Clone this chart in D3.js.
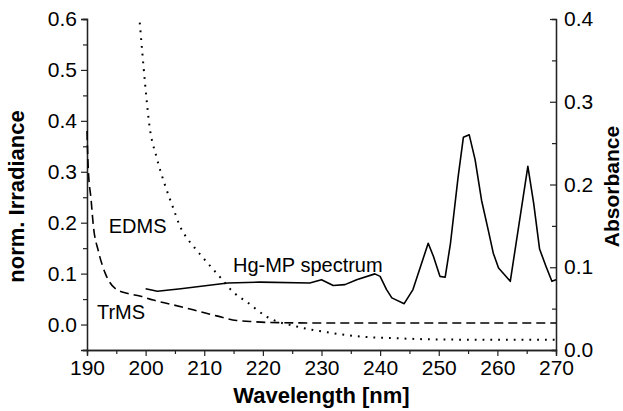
<!DOCTYPE html>
<head>
  <meta charset="utf-8">
  <script src="https://d3js.org/d3.v7.min.js"></script>
  <style>
    body { margin: 0; background: #fff; }
    text { font-family: Arial, "Liberation Sans", sans-serif; fill: #000; }
  </style>
</head>
<body>
  <script>
    var margin = {top: 19, right: 67, bottom: 61, left: 87},
      width = 623 - margin.left - margin.right,
      height = 411 - margin.top - margin.bottom;

    // TrMS (left axis, dashed)
    var trmsWl = [190, 190.2, 190.7, 191.1, 191.9, 193.1, 194.8, 197, 199, 201.3, 204.2, 208.1, 212.1, 215.5, 217.8, 221.2, 230, 240, 250, 260, 270];
    var trmsVal = [0.38, 0.31, 0.245, 0.192, 0.146, 0.101, 0.071, 0.061, 0.056, 0.048, 0.04, 0.029, 0.017, 0.008, 0.006, 0.004, 0.003, 0.003, 0.003, 0.003, 0.003];

    // EDMS (left axis, dotted)
    var edmsWl = [199, 199.9, 200.6, 201.9, 203.3, 204.7, 205.9, 207.3, 208.7, 210.7, 212.4, 215.2, 217.2, 220.7, 225.8, 231.4, 237.1, 242.8, 248.5, 260, 270];
    var edmsVal = [0.593, 0.474, 0.395, 0.327, 0.274, 0.229, 0.192, 0.166, 0.146, 0.119, 0.097, 0.061, 0.045, 0.015, -0.004, -0.016, -0.024, -0.027, -0.029, -0.03, -0.03];

    // Hg-MP spectrum (right axis, solid)
    var hgWl = [200, 202, 206, 214, 219.5, 228, 230, 232, 234, 236, 239.1, 240, 241.1, 242, 244.1, 245.6, 248.2, 249.1, 250.2, 251.1, 252, 253.3, 254.2, 255.2, 256.2, 257.3, 258.5, 259.3, 260.2, 262.2, 265.2, 266.2, 267.2, 268.3, 269.3, 270];
    var hgVal = [0.074, 0.071, 0.074, 0.081, 0.082, 0.081, 0.085, 0.078, 0.079, 0.085, 0.092, 0.089, 0.073, 0.063, 0.056, 0.073, 0.129, 0.113, 0.089, 0.088, 0.129, 0.209, 0.257, 0.26, 0.23, 0.181, 0.143, 0.117, 0.099, 0.083, 0.222, 0.177, 0.122, 0.101, 0.083, 0.085];

    var xTicks = [190, 200, 210, 220, 230, 240, 250, 260, 270];
    var leftTicks = [0.0, 0.1, 0.2, 0.3, 0.4, 0.5, 0.6];
    var rightTicks = [0.0, 0.1, 0.2, 0.3, 0.4];

    var svg = d3.select('body').append('svg')
      .attr('width', 623)
      .attr('height', 411)
      .append('g')
      .attr('transform', 'translate(' + margin.left + ',' + margin.top + ')');

    var x = d3.scaleLinear().domain([190, 270]).range([0, width]);
    var yL = d3.scaleLinear().domain([-0.05, 0.6]).range([height, 0]);
    var yR = d3.scaleLinear().domain([0, 0.4]).range([height, 0]);

    // minor ticks first, then major with labels
    svg.append('g')
      .attr('transform', 'translate(0,' + height + ')')
      .call(d3.axisBottom(x).tickValues(d3.range(195, 270, 10)).tickSize(4).tickFormat(''));
    svg.append('g')
      .attr('class', 'axis')
      .attr('transform', 'translate(0,' + height + ')')
      .call(d3.axisBottom(x).tickValues(xTicks).tickSize(6).tickPadding(4).tickFormat(d3.format('d')));

    svg.append('g')
      .call(d3.axisLeft(yL).tickValues([-0.05, 0.05, 0.15, 0.25, 0.35, 0.45, 0.55]).tickSize(4).tickFormat(''));
    svg.append('g')
      .attr('class', 'axis')
      .call(d3.axisLeft(yL).tickValues(leftTicks).tickSize(6).tickPadding(4).tickFormat(d3.format('.1f')));

    svg.append('g')
      .attr('transform', 'translate(' + width + ',0)')
      .call(d3.axisLeft(yR).tickValues([0.05, 0.15, 0.25, 0.35]).tickSize(4).tickFormat(''));
    var rAxis = svg.append('g')
      .attr('class', 'axis')
      .attr('transform', 'translate(' + width + ',0)')
      .call(d3.axisRight(yR).tickValues(rightTicks).tickSize(0).tickPadding(8).tickFormat(d3.format('.1f')));
    rAxis.selectAll('.tick line').attr('x2', -6);

    svg.selectAll('.domain').attr('stroke', '#222').attr('stroke-width', 1.3);
    svg.selectAll('.tick line').attr('stroke', '#222').attr('stroke-width', 1.2);
    svg.selectAll('.axis text').style('font-size', '21px').attr('fill', '#000');

    var lineL = d3.line().x(d => x(d[0])).y(d => yL(d[1])).curve(d3.curveMonotoneX);
    var lineR = d3.line().x(d => x(d[0])).y(d => yR(d[1]));

    svg.append('path')
      .datum(d3.zip(trmsWl, trmsVal))
      .attr('d', lineL)
      .attr('fill', 'none').attr('stroke', '#000').attr('stroke-width', 1.6)
      .attr('stroke-dasharray', '9,5');

    svg.append('path')
      .datum(d3.zip(edmsWl, edmsVal))
      .attr('d', lineL)
      .attr('fill', 'none').attr('stroke', '#000').attr('stroke-width', 2)
      .attr('stroke-dasharray', '1.8,6');

    svg.append('path')
      .datum(d3.zip(hgWl, hgVal))
      .attr('d', lineR)
      .attr('fill', 'none').attr('stroke', '#000').attr('stroke-width', 1.6)
      .attr('stroke-linejoin', 'round');

    // annotations
    svg.append('text').attr('x', x(193.7)).attr('y', yL(0.18)).text('EDMS').style('font-size', '20px');
    svg.append('text').attr('x', x(191.7)).attr('y', yL(0.011)).text('TrMS').style('font-size', '20px');
    svg.append('text').attr('x', x(214.9)).attr('y', yL(0.103)).text('Hg-MP spectrum').style('font-size', '20px');

    // axis titles
    svg.append('text')
      .attr('x', width / 2).attr('y', height + 53)
      .attr('text-anchor', 'middle')
      .style('font-size', '22px').style('font-weight', 'bold')
      .text('Wavelength [nm]');
    svg.append('text')
      .attr('transform', 'translate(' + (-63) + ',' + (height / 2 + 12) + ') rotate(-90)')
      .attr('text-anchor', 'middle')
      .style('font-size', '22px').style('font-weight', 'bold')
      .text('norm. Irradiance');
    svg.append('text')
      .attr('transform', 'translate(' + (width + 63) + ',' + (height / 2 + 2) + ') rotate(-90)')
      .attr('text-anchor', 'middle')
      .style('font-size', '21px').style('font-weight', 'bold')
      .text('Absorbance');
  </script>
</body>
